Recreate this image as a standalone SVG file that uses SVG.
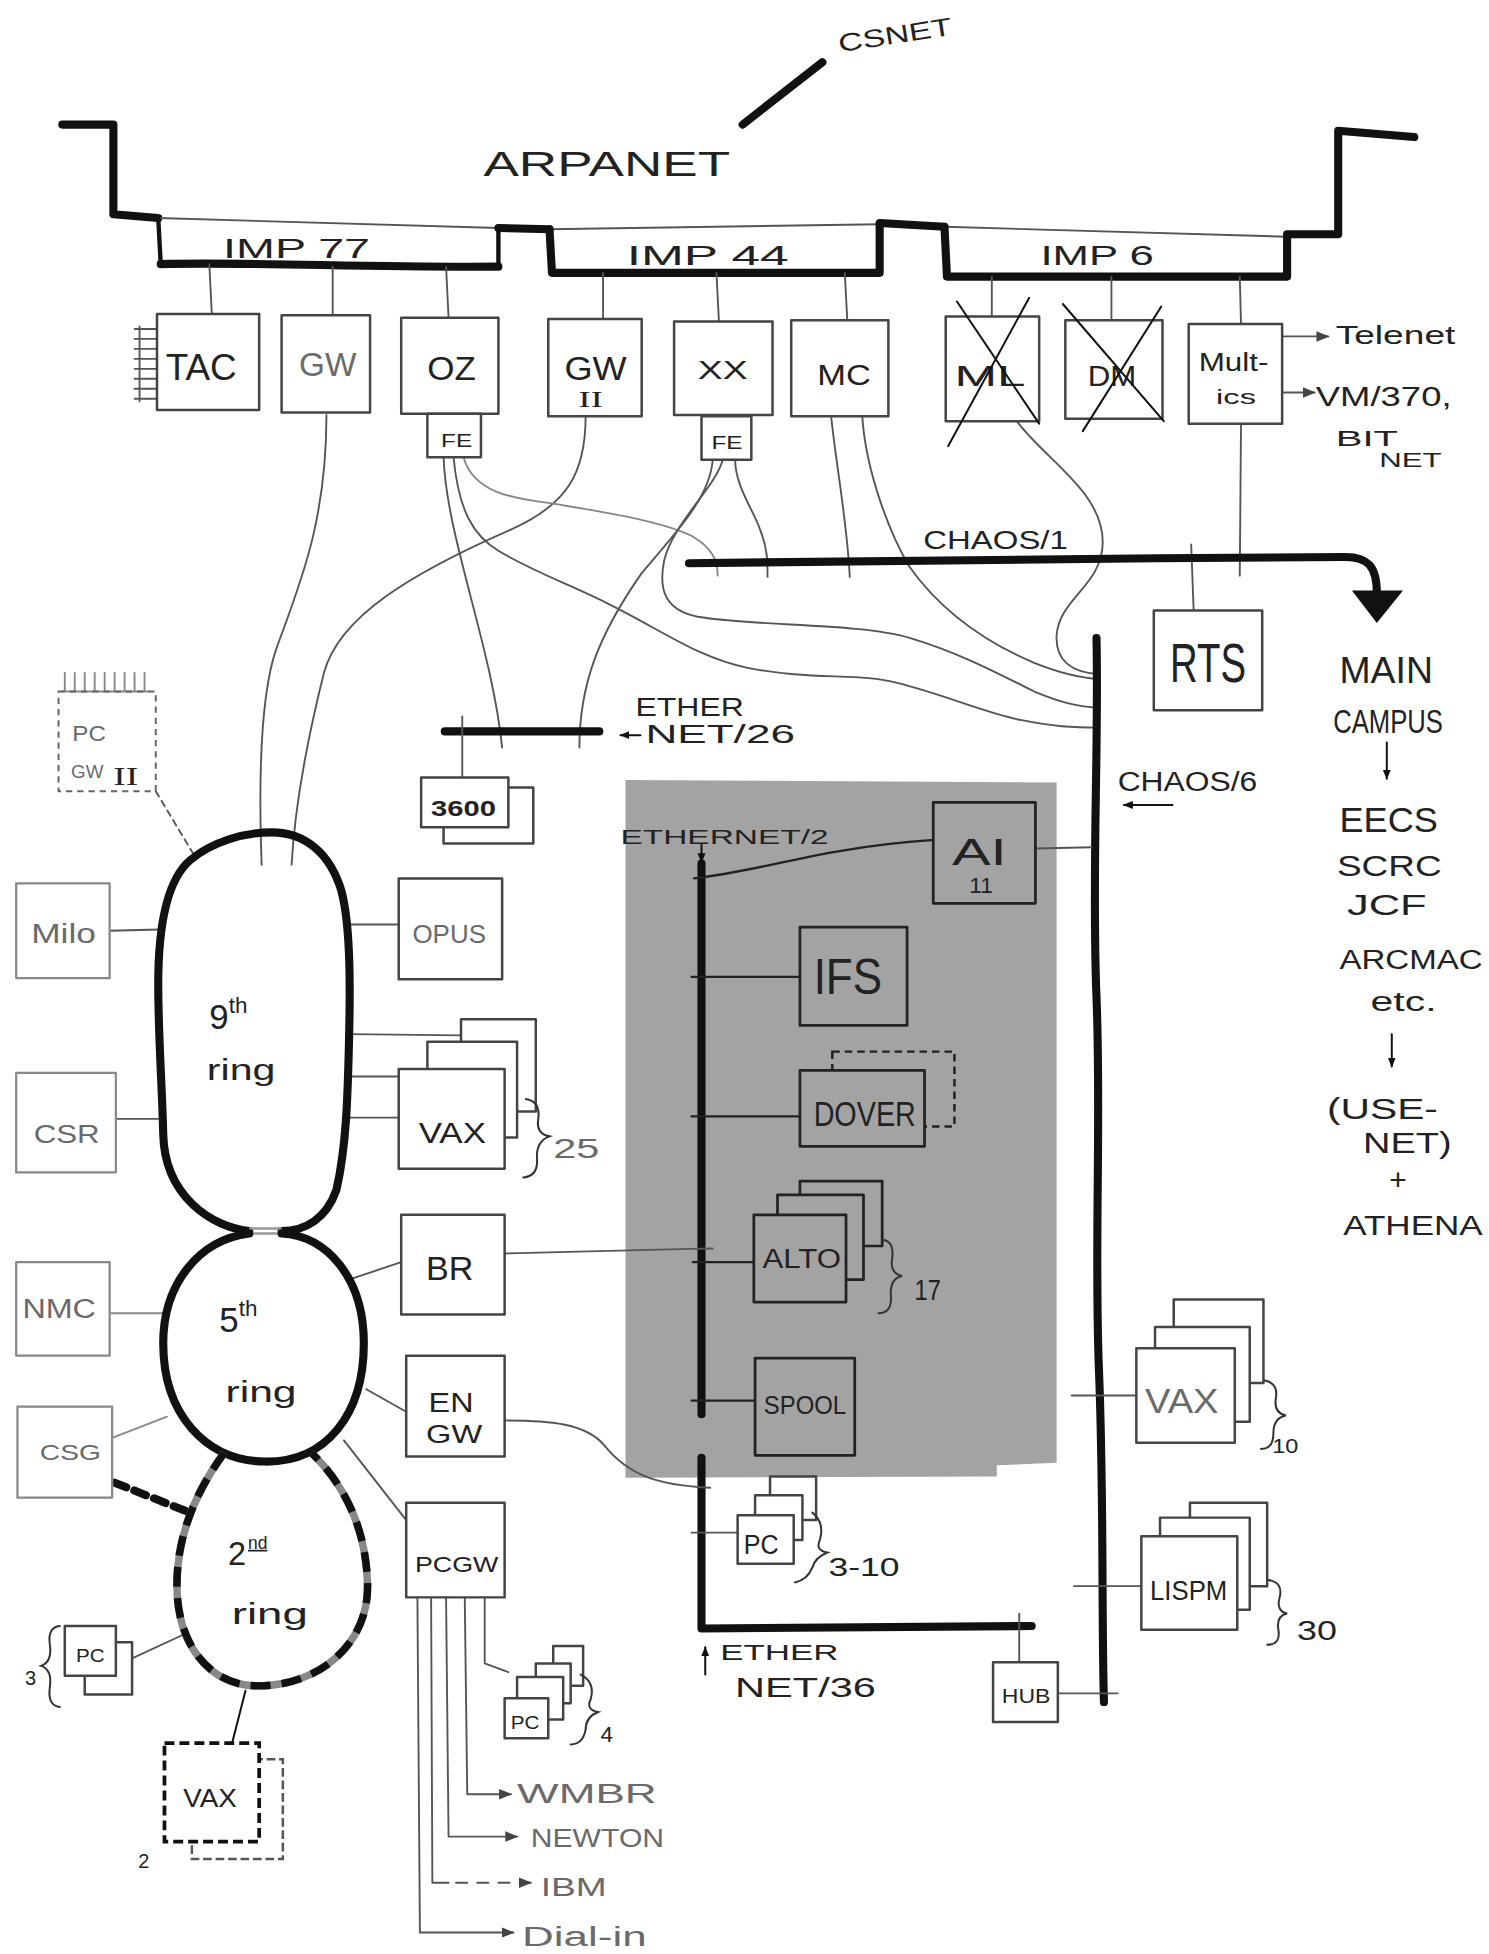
<svg xmlns="http://www.w3.org/2000/svg" width="1489" height="1954" viewBox="0 0 1489 1954">
<defs>
<style>
.t{font-family:"Liberation Sans",Arial,sans-serif;fill:#222}
.g{fill:#6a6a6a}
.sf{font-family:"Liberation Serif","Times New Roman",serif}
.bx{fill:#fff;stroke:#444;stroke-width:2;stroke-linejoin:round}
.bxl{fill:#fff;stroke:#888;stroke-width:1.8;stroke-linejoin:round}
.bxs{fill:#a3a3a3;stroke:#222;stroke-width:2.2;stroke-linejoin:round}
.w{fill:none;stroke:#555;stroke-width:1.5;stroke-linecap:round;stroke-linejoin:round}
.wl{fill:none;stroke:#888;stroke-width:1.5;stroke-linecap:round}
.wd{fill:none;stroke:#222;stroke-width:1.8;stroke-linecap:round}
.k{fill:none;stroke:#111;stroke-width:6.5;stroke-linecap:round;stroke-linejoin:round}
.m{fill:none;stroke:#111;stroke-width:3.5;stroke-linecap:round}
.x{fill:none;stroke:#111;stroke-width:1.6;stroke-linecap:round}
.br{fill:none;stroke:#333;stroke-width:1.6;stroke-linecap:round}
</style>
<marker id="ah" viewBox="0 0 10 10" refX="9" refY="5" markerWidth="7" markerHeight="7" orient="auto"><path d="M0,1 L10,5 L0,9 Z" fill="#444"/></marker>
<marker id="ahk" viewBox="0 0 10 10" refX="9" refY="5" markerWidth="5" markerHeight="5" orient="auto"><path d="M0,1 L10,5 L0,9 Z" fill="#111"/></marker>
</defs>
<rect width="1489" height="1954" fill="#fff"/>
<g transform="scale(1.246)">

<!-- shaded area -->
<polygon id="shade" points="502,626 848,628 848,1174 800,1176 800,1185 502,1186" fill="#a3a3a3"/>

<!-- backbone: ARPANET -->
<g id="arpanet">
<path class="k" d="M50,100 L91,100 L91,172 L127,175"/>
<path class="w" d="M127,175 L400,183" stroke-width="2"/>
<path class="m" d="M127,175 L129,212"/>
<path class="k" d="M129,212 C200,210 300,215 400,214"/>
<path class="m" d="M400,183 L400,214"/>
<path class="k" d="M400,183 L441,184"/>
<path class="w" d="M441,184 L706,180" stroke-width="2"/>
<path class="k" d="M441,184 L443,219 L706,219 L706,180"/>
<path class="k" d="M706,179 L758,182"/>
<path class="w" d="M758,182 L1033,190" stroke-width="2"/>
<path class="k" d="M758,182 L760,222 L1033,222 L1033,188 L1074,188 L1074,105 L1135,110"/>
<path class="k" d="M596,100 L660,50" stroke-width="6"/>
<text class="t" x="674" y="42" font-size="20" textLength="92" lengthAdjust="spacingAndGlyphs" transform="rotate(-9 674 42)">CSNET</text>
<text class="t" x="388" y="141" font-size="28" textLength="198" lengthAdjust="spacingAndGlyphs">ARPANET</text>
<text class="t" x="179" y="207" font-size="22" textLength="118" lengthAdjust="spacingAndGlyphs">IMP 77</text>
<text class="t" x="503" y="213" font-size="22" textLength="130" lengthAdjust="spacingAndGlyphs">IMP 44</text>
<text class="t" x="835" y="213" font-size="22" textLength="91" lengthAdjust="spacingAndGlyphs">IMP 6</text>
</g>

<!-- connectors -->
<g id="connectors">
<path class="w" d="M168,212 L170,252 M267,214 L267,253 M358,214 L360,255 M484,219 L484,256 M575,219 L577,258 M678,219 L680,257 M796,222 L796,256 M892,222 L892,257 M995,222 L996,260"/>
<path class="w" d="M112,262 L112,322 M108,264 H126 M108,272 H126 M108,280 H126 M108,288 H126 M108,296 H126 M108,304 H126 M108,312 H126 M108,320 H126"/>
<path class="w" d="M1030,270 L1066,270" marker-end="url(#ah)"/>
<path class="w" d="M1030,315 L1055,315" marker-end="url(#ah)"/>
<path class="w" d="M262,333 C262,420 240,470 222,520 C208,560 208,640 210,694"/>
<path class="w" d="M470,334 C470,380 455,405 410,425 C330,460 272,495 260,540 C250,580 237,640 234,694"/>
<path class="w" d="M356,367 C358,430 395,520 403,600"/>
<path class="w" d="M364,367 C368,410 380,430 400,442 C430,460 460,470 487,484 C530,505 560,528 600,536 C650,546 690,540 720,548 C760,558 790,572 820,578 C845,583 860,584 882,584"/>
<path class="wl" d="M372,367 C380,395 410,400 443,404 C490,412 530,418 555,430 C572,440 576,450 576,462"/>
<path class="w" d="M572,369 C570,400 540,430 515,460 C480,510 465,550 465,600"/>
<path class="w" d="M580,369 C575,390 540,420 533,450 C528,475 535,490 560,495 C610,503 690,500 730,512 C770,524 800,540 830,555 C850,563 862,567 882,568"/>
<path class="w" d="M590,369 C590,390 605,410 610,425 C616,440 616,450 616,463"/>
<path class="w" d="M667,334 C672,380 680,420 682,463"/>
<path class="w" d="M692,334 C695,380 715,430 730,455 C755,490 790,515 830,532 C850,540 865,544 882,545"/>
<path class="w" d="M816,338 C840,370 885,395 885,435 C885,470 850,480 848,510 C847,530 860,540 882,541"/>
<path class="w" d="M996,340 L995,462"/>
<path class="w" d="M956,437 L958,490"/>
<path class="k" d="M553,452 C700,450 900,448 1080,447 C1098,447 1105,455 1105,476" stroke-width="7"/>
<polygon points="1085,474 1126,474 1105,500" fill="#111"/>
<text class="t" x="741" y="441" font-size="20" textLength="116" lengthAdjust="spacingAndGlyphs">CHAOS/1</text>
<path class="k" d="M880,512 C882,600 876,700 880,800 C884,900 878,1000 882,1100 C886,1200 884,1300 886,1366" stroke-width="6"/>
<text class="t" x="897" y="635" font-size="22" textLength="112" lengthAdjust="spacingAndGlyphs">CHAOS/6</text>
<path class="x" d="M941,646 L902,646" stroke-width="2.4" marker-end="url(#ahk)"/>
<path class="w" d="M831,681 L876,680"/>
<path class="w" d="M860,1120 L912,1120"/>
<path class="w" d="M862,1273 L916,1273"/>
<path class="w" d="M849,1359 L897,1359"/>
<path class="k" d="M357,587 L481,587"/>
<path class="w" d="M371,575 L371,624"/>
<text class="t" x="510" y="575" font-size="20" textLength="87" lengthAdjust="spacingAndGlyphs">ETHER</text>
<path class="x" d="M514,590 L498,590" marker-end="url(#ahk)"/>
<text class="t" x="518" y="596" font-size="20" textLength="120" lengthAdjust="spacingAndGlyphs">NET/26</text>
<path class="k" d="M563,693 L563,1135" stroke-width="6"/>
<text class="t" x="498" y="677" font-size="16" textLength="167" lengthAdjust="spacingAndGlyphs">ETHERNET/2</text>
<path class="x" d="M563,678 L563,692" marker-end="url(#ahk)"/>
<path class="wd" d="M557,705 C600,700 640,688 680,682 C710,677 735,675 750,674"/>
<path class="wd" d="M555,784 L642,784"/>
<path class="wd" d="M555,896 L642,896"/>
<path class="w" d="M405,1006 C470,1004 520,1003 572,1002"/>
<path class="wd" d="M556,1013 L605,1013"/>
<path class="wd" d="M555,1124 L606,1124"/>
<path class="k" d="M563,1170 L563,1307 L828,1305" stroke-width="6"/>
<path class="w" d="M405,1140 C440,1140 470,1142 485,1160 C505,1185 530,1192 570,1194"/>
<path class="w" d="M555,1230 L592,1230"/>
<path class="w" d="M818,1295 L818,1334"/>
<path class="x" d="M566,1344 L566,1322" marker-end="url(#ahk)"/>
<text class="t" x="578" y="1332" font-size="18" textLength="95" lengthAdjust="spacingAndGlyphs">ETHER</text>
<text class="t" x="590" y="1362" font-size="22" textLength="113" lengthAdjust="spacingAndGlyphs">NET/36</text>
<path class="w" d="M88,747 L128,746 M93,898 L130,898 M280,742 L320,742 M280,830 L370,831 M280,864 L320,864 M280,897 L320,897"/>
<path class="wl" d="M88,1054 L132,1054 M90,1154 L134,1137"/>
<path class="k" d="M92,1190 L150,1213" stroke-width="4" stroke-dasharray="10 7" stroke-linecap="butt"/>
<path class="w" d="M283,1026 L322,1013 M294,1115 L326,1133 M276,1156 L326,1220"/>
<path class="w" d="M106,1331 L147,1312"/>
<path class="x" d="M197,1357 L186,1400" stroke-width="2.5"/>
<path class="w" d="M125,635 L155,685" stroke-dasharray="5 4"/>
<path class="w" d="M389,1282 L389,1335 L408,1342"/>
<path class="w" d="M373,1282 L375,1440 L410,1440" marker-end="url(#ah)"/>
<path class="w" d="M358,1282 L360,1474 L415,1474" marker-end="url(#ah)"/>
<path class="w" d="M346,1282 L347,1511 L360,1511"/>
<path class="w" d="M366,1511 L426,1511" stroke-dasharray="9 8" marker-end="url(#ah)"/>
<path class="w" d="M335,1282 L337,1551 L412,1551" marker-end="url(#ah)"/>
<text class="t g" x="415" y="1447" font-size="22" textLength="112" lengthAdjust="spacingAndGlyphs">WMBR</text>
<text class="t g" x="426" y="1482" font-size="20" textLength="107" lengthAdjust="spacingAndGlyphs">NEWTON</text>
<text class="t g" x="434" y="1522" font-size="20" textLength="53" lengthAdjust="spacingAndGlyphs">IBM</text>
<text class="t g" x="419" y="1562" font-size="22" textLength="100" lengthAdjust="spacingAndGlyphs">Dial-in</text>
<g class="t" font-size="26">
<text x="1075" y="548" font-size="30" textLength="75" lengthAdjust="spacingAndGlyphs">MAIN</text>
<text x="1070" y="588" textLength="88" lengthAdjust="spacingAndGlyphs">CAMPUS</text>
<text x="1075" y="668" font-size="28" textLength="79" lengthAdjust="spacingAndGlyphs">EECS</text>
<text x="1073" y="703" font-size="24" textLength="84" lengthAdjust="spacingAndGlyphs">SCRC</text>
<text x="1081" y="734" font-size="24" textLength="64" lengthAdjust="spacingAndGlyphs">JCF</text>
<text x="1075" y="778" font-size="22" textLength="115" lengthAdjust="spacingAndGlyphs">ARCMAC</text>
<text x="1100" y="811" font-size="22" textLength="53" lengthAdjust="spacingAndGlyphs">etc.</text>
<text x="1065" y="898" font-size="24" textLength="89" lengthAdjust="spacingAndGlyphs">(USE-</text>
<text x="1094" y="925" font-size="24" textLength="71" lengthAdjust="spacingAndGlyphs">NET)</text>
<text x="1115" y="955" font-size="24">+</text>
<text x="1078" y="991" font-size="22" textLength="112" lengthAdjust="spacingAndGlyphs">ATHENA</text>
</g>
<path class="x" d="M1113,596 L1113,625" stroke-width="2" marker-end="url(#ahk)"/>
<path class="x" d="M1117,830 L1117,856" stroke-width="2" marker-end="url(#ahk)"/>
</g>

<!-- rings -->
<g id="ring9">
<path class="k" stroke-width="7" d="M200,988 C170,985 132,960 131,910 C130,870 127,830 127,790 C127,740 135,705 153,690 C170,676 195,668 218,668 C245,668 265,685 274,715 C282,745 281,800 280,840 C279,880 278,920 270,955 C262,978 245,988 226,988"/>
<text class="t" x="168" y="826" font-size="28">9<tspan font-size="18" dy="-13">th</tspan></text>
<text class="t" x="166" y="867" font-size="24" textLength="55" lengthAdjust="spacingAndGlyphs">ring</text>
</g>
<path d="M200,986 L226,986 M200,990 L226,990" stroke="#999" stroke-width="2"/>
<g id="ring5">
<path class="k" stroke-width="7" d="M200,990 C160,995 131,1030 131,1078 C131,1135 165,1172 212,1173 C262,1174 292,1135 292,1078 C292,1025 262,992 226,990"/>
<text class="t" x="176" y="1069" font-size="28">5<tspan font-size="18" dy="-13">th</tspan></text>
<text class="t" x="181" y="1125" font-size="24" textLength="57" lengthAdjust="spacingAndGlyphs">ring</text>
</g>
<g id="ring2">
<path d="M180,1166 C155,1200 142,1235 142,1272 C142,1320 168,1352 205,1353 C255,1354 296,1320 295,1272 C294,1225 275,1190 250,1166" fill="none" stroke="#888" stroke-width="6"/>
<path d="M180,1166 C155,1200 142,1235 142,1272 C142,1320 168,1352 205,1353 C255,1354 296,1320 295,1272 C294,1225 275,1190 250,1166" fill="none" stroke="#111" stroke-width="6" stroke-dasharray="16 9"/>
<text class="t" x="183" y="1256" font-size="26">2</text>
<text class="t" x="199" y="1243" font-size="14" text-decoration="underline">nd</text>
<text class="t" x="186" y="1303" font-size="24" textLength="61" lengthAdjust="spacingAndGlyphs">ring</text>
</g>

<!-- top row nodes -->
<g id="tac"><rect class="bx" x="126" y="252" width="82" height="77"/><text class="t" x="133" y="305" font-size="30" textLength="57" lengthAdjust="spacingAndGlyphs">TAC</text></g>
<g id="gw"><rect class="bx" x="226" y="253" width="71" height="78"/><text class="t g" x="240" y="302" font-size="26" textLength="46" lengthAdjust="spacingAndGlyphs">GW</text></g>
<g id="oz"><rect class="bx" x="322" y="255" width="78" height="77"/><text class="t" x="343" y="305" font-size="26" textLength="39" lengthAdjust="spacingAndGlyphs">OZ</text>
<rect class="bx" x="343" y="332" width="43" height="35"/><text class="t" x="354" y="359" font-size="14" textLength="25" lengthAdjust="spacingAndGlyphs">FE</text></g>
<g id="gw2"><rect class="bx" x="440" y="256" width="75" height="78"/><text class="t" x="453" y="305" font-size="26" textLength="50" lengthAdjust="spacingAndGlyphs">GW</text><text class="t sf" x="464" y="327" font-size="18" textLength="20" lengthAdjust="spacingAndGlyphs">II</text></g>
<g id="xx"><rect class="bx" x="541" y="258" width="79" height="75"/><text class="t" x="560" y="304" font-size="20" textLength="40" lengthAdjust="spacingAndGlyphs">XX</text>
<rect class="bx" x="563" y="334" width="40" height="35"/><text class="t" x="571" y="360" font-size="14" textLength="25" lengthAdjust="spacingAndGlyphs">FE</text></g>
<g id="mc"><rect class="bx" x="635" y="257" width="78" height="77"/><text class="t" x="656" y="309" font-size="24" textLength="43" lengthAdjust="spacingAndGlyphs">MC</text></g>
<g id="ml"><rect class="bx" x="759" y="254" width="75" height="84"/><text class="t" x="766" y="310" font-size="24" textLength="57" lengthAdjust="spacingAndGlyphs">ML</text>
<path class="x" d="M768,242 L834,340 M826,239 L761,358"/></g>
<g id="dm"><rect class="bx" x="855" y="257" width="78" height="79"/><text class="t" x="873" y="310" font-size="24" textLength="39" lengthAdjust="spacingAndGlyphs">DM</text>
<path class="x" d="M853,244 L934,338 M932,246 L869,346"/></g>
<g id="multics"><rect class="bx" x="954" y="260" width="75" height="80"/><text class="t" x="962" y="298" font-size="20" textLength="56" lengthAdjust="spacingAndGlyphs">Mult-</text><text class="t" x="976" y="324" font-size="16" textLength="32" lengthAdjust="spacingAndGlyphs">ics</text></g>
<g id="telenet"><text class="t" x="1072" y="276" font-size="20" textLength="96" lengthAdjust="spacingAndGlyphs">Telenet</text></g>
<g id="vm370"><text class="t" x="1056" y="326" font-size="22" textLength="109" lengthAdjust="spacingAndGlyphs">VM/370,</text>
<text class="t" x="1072" y="358" font-size="18" textLength="50" lengthAdjust="spacingAndGlyphs">BIT</text><text class="t" x="1107" y="375" font-size="16" textLength="50" lengthAdjust="spacingAndGlyphs">NET</text></g>
<g id="rts"><rect class="bx" x="926" y="490" width="87" height="80"/><text class="t" x="939" y="547" font-size="44" textLength="61" lengthAdjust="spacingAndGlyphs">RTS</text></g>

<!-- left side -->
<g id="pcgw2"><path class="wl" d="M50,555 H120 M52,540 V555 M60,540 V555 M68,540 V555 M76,540 V555 M84,540 V555 M92,540 V555 M100,540 V555 M108,540 V555 M116,540 V555"/>
<rect x="47" y="555" width="78" height="80" fill="none" stroke="#666" stroke-width="1.6" stroke-dasharray="5 4"/>
<text class="t g" x="58" y="595" font-size="17" textLength="27" lengthAdjust="spacingAndGlyphs">PC</text>
<text class="t g" x="57" y="624" font-size="14" textLength="26" lengthAdjust="spacingAndGlyphs">GW</text>
<text class="t sf" x="91" y="630" font-size="20" textLength="20" lengthAdjust="spacingAndGlyphs">II</text></g>
<g id="n3600"><rect class="bx" x="356" y="632" width="72" height="45"/><rect class="bx" x="338" y="624" width="70" height="40" stroke-width="2.4"/><text class="t" x="346" y="655" font-size="17" font-weight="bold" textLength="52" lengthAdjust="spacingAndGlyphs">3600</text></g>
<g id="milo"><rect class="bxl" x="13" y="709" width="75" height="76"/><text class="t g" x="25" y="757" font-size="22" textLength="52" lengthAdjust="spacingAndGlyphs">Milo</text></g>
<g id="csr"><rect class="bxl" x="13" y="861" width="80" height="80"/><text class="t g" x="27" y="917" font-size="20" textLength="53" lengthAdjust="spacingAndGlyphs">CSR</text></g>
<g id="opus"><rect class="bx" x="320" y="705" width="83" height="81"/><text class="t g" x="331" y="757" font-size="20" textLength="59" lengthAdjust="spacingAndGlyphs">OPUS</text></g>
<g id="vax9"><rect class="bx" x="370" y="818" width="60" height="74"/><rect class="bx" x="343" y="836" width="72" height="77"/><rect class="bx" x="320" y="858" width="85" height="80"/>
<text class="t" x="336" y="917" font-size="24" textLength="54" lengthAdjust="spacingAndGlyphs">VAX</text>
<path class="br" d="M422,882 Q434,884 432,898 Q430,910 441,912 Q430,916 431,930 Q432,944 420,945"/>
<text class="t g" x="444" y="929" font-size="22" textLength="37" lengthAdjust="spacingAndGlyphs">25</text></g>
<g id="nmc"><rect class="bxl" x="13" y="1013" width="75" height="75"/><text class="t g" x="18" y="1058" font-size="22" textLength="59" lengthAdjust="spacingAndGlyphs">NMC</text></g>
<g id="csg"><rect class="bxl" x="14" y="1129" width="76" height="73"/><text class="t g" x="32" y="1172" font-size="18" textLength="49" lengthAdjust="spacingAndGlyphs">CSG</text></g>
<g id="br"><rect class="bx" x="322" y="975" width="83" height="80"/><text class="t" x="342" y="1027" font-size="26" textLength="38" lengthAdjust="spacingAndGlyphs">BR</text></g>
<g id="engw"><rect class="bx" x="326" y="1088" width="79" height="81"/><text class="t" x="344" y="1133" font-size="22" textLength="36" lengthAdjust="spacingAndGlyphs">EN</text><text class="t" x="342" y="1158" font-size="20" textLength="45" lengthAdjust="spacingAndGlyphs">GW</text></g>
<g id="pcgw"><rect class="bx" x="326" y="1206" width="79" height="76"/><text class="t" x="333" y="1262" font-size="18" textLength="67" lengthAdjust="spacingAndGlyphs">PCGW</text></g>
<g id="pc3"><rect class="bx" x="68" y="1318" width="38" height="42"/><rect class="bx" x="52" y="1305" width="41" height="40"/><text class="t" x="61" y="1334" font-size="14" textLength="23" lengthAdjust="spacingAndGlyphs">PC</text>
<path class="br" d="M48,1305 Q38,1306 40,1320 Q42,1334 33,1337 Q42,1340 40,1354 Q38,1369 48,1370"/>
<text class="t" x="20" y="1352" font-size="16">3</text></g>
<g id="vax2"><rect x="154" y="1412" width="73" height="80" fill="#fff" stroke="#555" stroke-width="2" stroke-dasharray="7 3"/><rect x="132" y="1399" width="76" height="79" fill="#fff" stroke="#111" stroke-width="3" stroke-dasharray="8 4"/>
<text class="t" x="147" y="1450" font-size="20" textLength="43" lengthAdjust="spacingAndGlyphs">VAX</text>
<text class="t" x="111" y="1499" font-size="16">2</text></g>
<g id="pc4"><rect class="bx" x="444" y="1321" width="24" height="32"/><rect class="bx" x="430" y="1335" width="28" height="32"/><rect class="bx" x="415" y="1346" width="37" height="34"/><rect class="bx" x="405" y="1363" width="35" height="32"/>
<text class="t" x="410" y="1388" font-size="14" textLength="23" lengthAdjust="spacingAndGlyphs">PC</text>
<path class="br" d="M466,1344 Q478,1350 474,1364 Q470,1372 480,1374 Q470,1378 470,1388 Q468,1400 458,1400"/>
<text class="t" x="482" y="1398" font-size="18">4</text></g>

<!-- shaded area nodes -->
<g id="ai"><rect class="bxs" x="749" y="644" width="82" height="81"/><text class="t" x="764" y="694" font-size="30" textLength="44" lengthAdjust="spacingAndGlyphs">AI</text><text class="t" x="778" y="717" font-size="18" textLength="19" lengthAdjust="spacingAndGlyphs">11</text></g>
<g id="ifs"><rect class="bxs" x="642" y="744" width="86" height="79"/><text class="t" x="653" y="798" font-size="40" textLength="55" lengthAdjust="spacingAndGlyphs">IFS</text></g>
<g id="dover"><rect x="668" y="844" width="98" height="60" fill="none" stroke="#222" stroke-width="2" stroke-dasharray="6 4"/><rect class="bxs" x="642" y="859" width="100" height="61"/><text class="t" x="653" y="904" font-size="28" textLength="82" lengthAdjust="spacingAndGlyphs">DOVER</text></g>
<g id="alto"><rect class="bxs" x="642" y="948" width="66" height="52"/><rect class="bxs" x="624" y="959" width="69" height="68"/><rect class="bxs" x="605" y="975" width="74" height="70"/><text class="t" x="612" y="1018" font-size="22" textLength="63" lengthAdjust="spacingAndGlyphs">ALTO</text>
<path class="br" d="M708,995 Q718,996 716,1010 Q714,1022 724,1024 Q714,1026 715,1040 Q716,1054 705,1054"/>
<text class="t" x="734" y="1043" font-size="24" textLength="21" lengthAdjust="spacingAndGlyphs">17</text></g>
<g id="spool"><rect class="bxs" x="606" y="1090" width="80" height="78"/><text class="t" x="613" y="1135" font-size="20" textLength="66" lengthAdjust="spacingAndGlyphs">SPOOL</text></g>

<!-- lower middle -->
<g id="pc310"><rect class="bx" x="618" y="1185" width="37" height="35"/><rect class="bx" x="606" y="1200" width="38" height="36"/><rect class="bx" x="592" y="1216" width="45" height="39"/><text class="t" x="597" y="1247" font-size="22" textLength="28" lengthAdjust="spacingAndGlyphs">PC</text>
<path class="br" d="M652,1214 Q662,1222 658,1236 Q654,1244 664,1246 Q654,1250 652,1258 Q648,1268 638,1270"/>
<text class="t" x="665" y="1265" font-size="20" textLength="57" lengthAdjust="spacingAndGlyphs">3-10</text></g>
<g id="hub"><rect class="bx" x="797" y="1334" width="52" height="48"/><text class="t" x="804" y="1367" font-size="16" textLength="39" lengthAdjust="spacingAndGlyphs">HUB</text></g>
<g id="vaxr"><rect class="bx" x="942" y="1043" width="72" height="67"/><rect class="bx" x="927" y="1065" width="76" height="76"/><rect class="bx" x="912" y="1082" width="79" height="76"/><text class="t g" x="919" y="1134" font-size="28" textLength="59" lengthAdjust="spacingAndGlyphs">VAX</text>
<path class="br" d="M1015,1108 Q1026,1110 1024,1122 Q1022,1134 1032,1136 Q1022,1138 1022,1150 Q1022,1163 1012,1163"/>
<text class="t" x="1021" y="1166" font-size="16" textLength="21" lengthAdjust="spacingAndGlyphs">10</text></g>
<g id="lispm"><rect class="bx" x="955" y="1206" width="62" height="67"/><rect class="bx" x="931" y="1218" width="72" height="74"/><rect class="bx" x="916" y="1233" width="77" height="75"/><text class="t" x="923" y="1284" font-size="22" textLength="62" lengthAdjust="spacingAndGlyphs">LISPM</text>
<path class="br" d="M1018,1268 Q1030,1270 1027,1282 Q1024,1293 1033,1295 Q1024,1297 1026,1308 Q1028,1320 1017,1320"/>
<text class="t" x="1041" y="1316" font-size="22" textLength="32" lengthAdjust="spacingAndGlyphs">30</text></g>
</g>
</svg>
